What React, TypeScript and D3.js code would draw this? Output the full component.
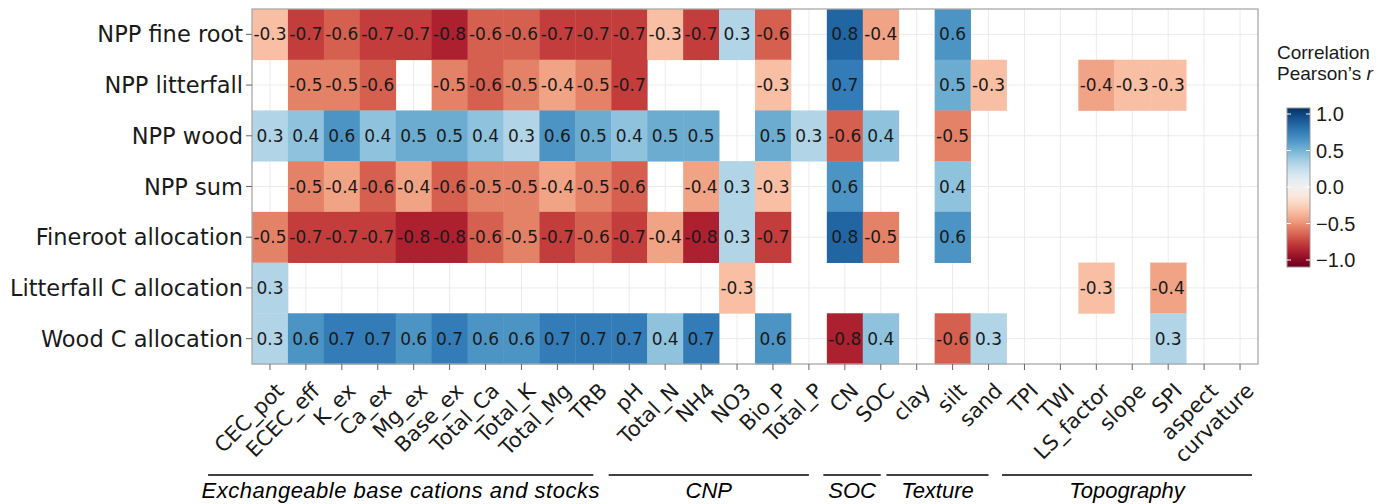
import React from "react";
import * as d3 from "d3";

const N = null;

const responses = [
  "NPP fine root",
  "NPP litterfall",
  "NPP wood",
  "NPP sum",
  "Fineroot allocation",
  "Litterfall C allocation",
  "Wood C allocation"
];

const variables = [
  "CEC_pot", "ECEC_eff", "K_ex", "Ca_ex", "Mg_ex", "Base_ex", "Total_Ca", "Total_K", "Total_Mg", "TRB",
  "pH", "Total_N", "NH4", "NO3", "Bio_P", "Total_P",
  "CN", "SOC",
  "clay", "silt", "sand",
  "TPI", "TWI", "LS_factor", "slope", "SPI", "aspect", "curvature"
];

// one array per response row, blank = not significant
const nppFineRoot = [-0.3, -0.7, -0.6, -0.7, -0.7, -0.8, -0.6, -0.6, -0.7, -0.7, -0.7, -0.3, -0.7, 0.3, -0.6, N, 0.8, -0.4, N, 0.6, N, N, N, N, N, N, N, N];
const nppLitterfall = [N, -0.5, -0.5, -0.6, N, -0.5, -0.6, -0.5, -0.4, -0.5, -0.7, N, N, N, -0.3, N, 0.7, N, N, 0.5, -0.3, N, N, -0.4, -0.3, -0.3, N, N];
const nppWood = [0.3, 0.4, 0.6, 0.4, 0.5, 0.5, 0.4, 0.3, 0.6, 0.5, 0.4, 0.5, 0.5, N, 0.5, 0.3, -0.6, 0.4, N, -0.5, N, N, N, N, N, N, N, N];
const nppSum = [N, -0.5, -0.4, -0.6, -0.4, -0.6, -0.5, -0.5, -0.4, -0.5, -0.6, N, -0.4, 0.3, -0.3, N, 0.6, N, N, 0.4, N, N, N, N, N, N, N, N];
const finerootAllocation = [-0.5, -0.7, -0.7, -0.7, -0.8, -0.8, -0.6, -0.5, -0.7, -0.6, -0.7, -0.4, -0.8, 0.3, -0.7, N, 0.8, -0.5, N, 0.6, N, N, N, N, N, N, N, N];
const litterfallAllocation = [0.3, N, N, N, N, N, N, N, N, N, N, N, N, -0.3, N, N, N, N, N, N, N, N, N, -0.3, N, -0.4, N, N];
const woodAllocation = [0.3, 0.6, 0.7, 0.7, 0.6, 0.7, 0.6, 0.6, 0.7, 0.7, 0.7, 0.4, 0.7, N, 0.6, N, -0.8, 0.4, N, -0.6, 0.3, N, N, N, N, 0.3, N, N];

const rowValues = [nppFineRoot, nppLitterfall, nppWood, nppSum, finerootAllocation, litterfallAllocation, woodAllocation];

const groupNames = ["Exchangeable base cations and stocks", "CNP", "SOC", "Texture", "Topography"];
const groupFirst = ["CEC_pot", "pH", "CN", "clay", "TPI"];
const groupLast = ["TRB", "Total_P", "SOC", "sand", "curvature"];

const legendTicks = [1, 0.5, 0, -0.5, -1];

const W = 1394;
const H = 504;
const panel = { left: 252, right: 1258, top: 9, bottom: 364 };
const sans = "'DejaVu Sans', Verdana, sans-serif";
const arial = "'Liberation Sans', Arial, sans-serif";
const xLabelSize = 21;

function measure(text: string, font: string) {
  const ctx = document.createElement("canvas").getContext("2d");
  if (!ctx) return text.length * 12;
  ctx.font = font;
  return ctx.measureText(text).width;
}

export default function App() {
  const x = d3.scaleBand().domain(variables).range([panel.left, panel.right]);
  const y = d3.scaleBand().domain(responses).range([panel.top, panel.bottom]);
  const color = d3.scaleSequential((t: number) => d3.interpolateRdBu(t)).domain([-1, 1]);
  const bw = x.bandwidth();
  const bh = y.bandwidth();
  const xc = (v: string) => (x(v) as number) + bw / 2;
  const yc = (r: string) => (y(r) as number) + bh / 2;

  const cells = responses.flatMap((r, i) =>
    variables.map((v, j) => ({ r, v, value: rowValues[i][j] })).filter(d => d.value !== null)
  );

  // legend
  const leg = { x: 1287, w: 23, top: 108, bottom: 267 };
  const ly = d3.scaleLinear().domain([1, -1]).range([114, 260]);
  const stops = d3.range(0, 1.0001, 0.05);

  const fmtLegend = (v: number) => (v < 0 ? "\u2212" : "") + Math.abs(v).toFixed(1);

  const lineY = 475;

  return (
    <svg width={W} height={H} style={{ position: "absolute", left: 0, top: 0, background: "#fff" }}>
      <defs>
        <linearGradient id="rdbu" x1="0" y1="1" x2="0" y2="0">
          {stops.map(s => (
            <stop key={s} offset={s} stopColor={d3.interpolateRdBu(s)} />
          ))}
        </linearGradient>
      </defs>

      {/* grid */}
      <g stroke="#ebebeb" strokeWidth={1}>
        {variables.map(v => (
          <line key={v} x1={xc(v)} x2={xc(v)} y1={panel.top} y2={panel.bottom} />
        ))}
        {responses.map(r => (
          <line key={r} x1={panel.left} x2={panel.right} y1={yc(r)} y2={yc(r)} />
        ))}
      </g>

      {/* tiles */}
      <g>
        {cells.map(d => (
          <rect
            key={d.r + d.v}
            x={x(d.v)}
            y={y(d.r)}
            width={bw + 0.4}
            height={bh + 0.4}
            fill={color(d.value as number)}
          />
        ))}
      </g>
      <g fontFamily={sans} fontSize={17} fill="#1a1a1a" textAnchor="middle">
        {cells.map(d => (
          <text key={d.r + d.v} x={xc(d.v)} y={yc(d.r)} dy="0.36em">
            {(d.value as number).toFixed(1)}
          </text>
        ))}
      </g>

      <rect
        x={panel.left}
        y={panel.top}
        width={panel.right - panel.left}
        height={panel.bottom - panel.top}
        fill="none"
        stroke="#aaa"
        strokeWidth={1.3}
      />

      {/* y axis */}
      <g>
        {responses.map(r => (
          <g key={r}>
            <line x1={panel.left - 6} x2={panel.left} y1={yc(r)} y2={yc(r)} stroke="#666" />
            <text
              x={panel.left - 9}
              y={yc(r)}
              dy="0.36em"
              textAnchor="end"
              fontFamily={sans}
              fontSize={22.5}
              fill="#1a1a1a"
            >
              {r}
            </text>
          </g>
        ))}
      </g>

      {/* x axis */}
      <g>
        {variables.map(v => (
          <g key={v}>
            <line x1={xc(v)} x2={xc(v)} y1={panel.bottom} y2={panel.bottom + 6} stroke="#666" />
            <text
              transform={`translate(${xc(v) + 4},${panel.bottom + 17}) rotate(-45)`}
              dy="0.75em"
              textAnchor="end"
              fontFamily={sans}
              fontSize={xLabelSize}
              fill="#1a1a1a"
            >
              {v}
            </text>
          </g>
        ))}
      </g>

      {/* variable groups */}
      <g>
        {groupNames.map((g, i) => {
          const first = groupFirst[i];
          const x1 = xc(first) - measure(first, `${xLabelSize}px ${sans}`) * Math.SQRT1_2;
          const x2 = xc(groupLast[i]) + (i === groupNames.length - 1 ? 12 : 0);
          return (
            <g key={g}>
              <line x1={x1} x2={x2} y1={lineY} y2={lineY} stroke="#000" strokeWidth={1.5} />
              <text
                x={(x1 + x2) / 2}
                y={lineY + 23}
                textAnchor="middle"
                fontFamily={arial}
                fontStyle="italic"
                fontSize={22}
                letterSpacing={i === 0 ? 0.5 : 0}
                fill="#000"
              >
                {g}
              </text>
            </g>
          );
        })}
      </g>

      {/* legend */}
      <g fontFamily={arial} fill="#1a1a1a">
        <text x={1277} y={59} fontSize={19}>Correlation</text>
        <text x={1277} y={80} fontSize={19}>
          Pearson’s <tspan fontStyle="italic">r</tspan>
        </text>
        <rect x={leg.x} y={leg.top} width={leg.w} height={leg.bottom - leg.top} fill="url(#rdbu)" stroke="#999" strokeWidth={1} />
        {legendTicks.map(t => (
          <g key={t}>
            <line x1={leg.x} x2={leg.x + 4} y1={ly(t)} y2={ly(t)} stroke="#fff" strokeWidth={1} />
            <line x1={leg.x + leg.w - 4} x2={leg.x + leg.w} y1={ly(t)} y2={ly(t)} stroke="#fff" strokeWidth={1} />
            <text x={leg.x + leg.w + 6} y={ly(t)} dy="0.36em" fontSize={20}>
              {fmtLegend(t)}
            </text>
          </g>
        ))}
      </g>
    </svg>
  );
}
